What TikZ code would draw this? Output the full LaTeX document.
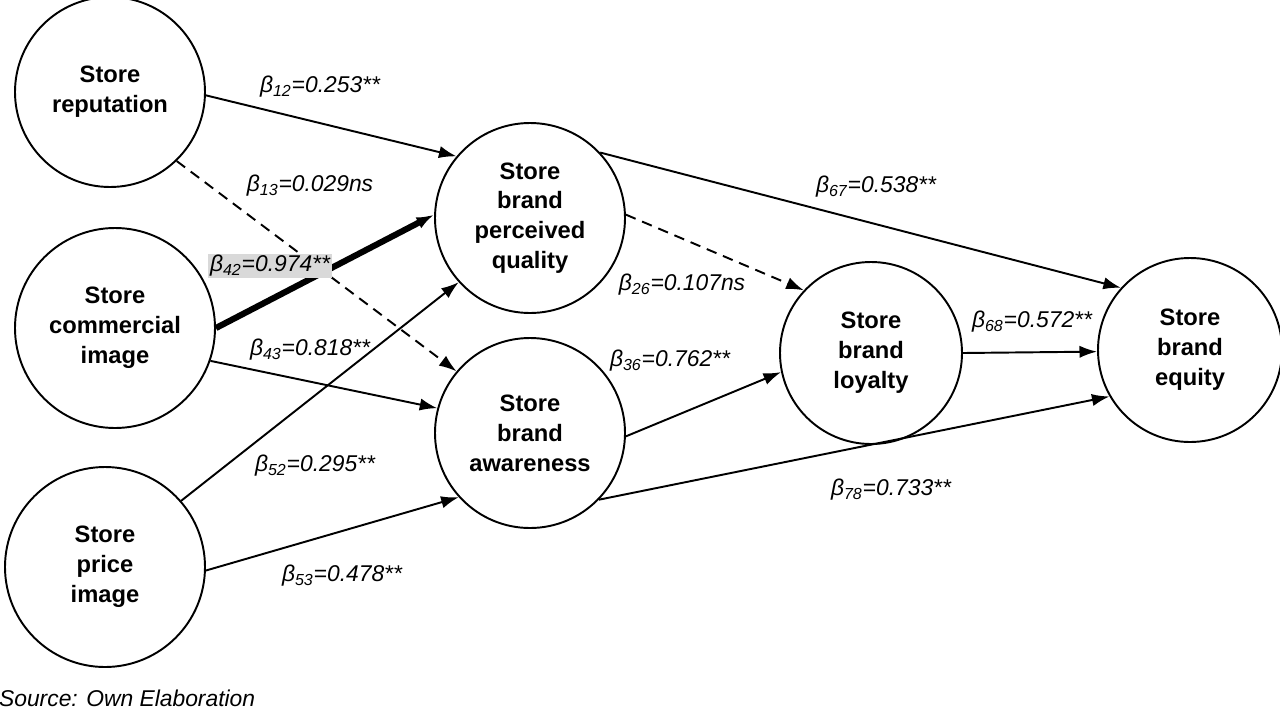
\documentclass[tikz,border=0pt]{standalone}
\usepackage{fontspec}
\setmainfont{Liberation Sans}
\usetikzlibrary{arrows.meta}
\begin{document}
\begin{tikzpicture}[x=0.02cm,y=-0.02cm,
  c/.style={circle,draw,line width=1.1pt,minimum size=#1*0.02cm,inner sep=0pt,align=center,font=\fontsize{13.5}{17}\selectfont\bfseries},
  e/.style={line width=1.1pt,-{Latex[length=10pt,width=7pt]}},
  d/.style={e,dash pattern=on 6pt off 4pt},
  l/.style={font=\fontsize{13}{15}\selectfont\itshape,inner sep=1pt}]
\useasboundingbox (0,0) rectangle (1280,720);
\node[c=190] (rep) at (110,92) {Store\\reputation};
\node[c=200] (com) at (115,328) {Store\\commercial\\image};
\node[c=200] (pri) at (105,567) {Store\\price\\image};
\node[c=190] (pq) at (530,218) {Store\\brand\\perceived\\quality};
\node[c=190] (aw) at (530,433) {Store\\brand\\awareness};
\node[c=182] (loy) at (871,353) {Store\\brand\\loyalty};
\node[c=184] (eq) at (1190,350) {Store\\brand\\equity};
\draw[e] (rep.-2) -- (pq.140);
\draw[d] (rep.-46) -- (aw.140);
\draw[e,line width=3.5pt] (com.0) -- (pq.178);
\draw[e] (com.-19) -- (aw.165);
\draw[e] (pri.41) -- (pq.222);
\draw[e] (pri.-2) -- (aw.222);
\draw[e] (pq.43) -- (eq.138);
\draw[d] (pq.2) -- (loy.137);
\draw[e] (aw.-2) -- (loy.192);
\draw[e] (loy.0) -- (eq.181);
\draw[e] (aw.-44) -- (eq.210);
\node[l] at (320,87) {β\textsubscript{12}=0.253**};
\node[l] at (310,186) {β\textsubscript{13}=0.029ns};
\node[l,fill=black!15] at (270,266) {β\textsubscript{42}=0.974**};
\node[l] at (310,350) {β\textsubscript{43}=0.818**};
\node[l] at (315,466) {β\textsubscript{52}=0.295**};
\node[l] at (342,576) {β\textsubscript{53}=0.478**};
\node[l] at (876,187) {β\textsubscript{67}=0.538**};
\node[l] at (682,285) {β\textsubscript{26}=0.107ns};
\node[l] at (670,361) {β\textsubscript{36}=0.762**};
\node[l] at (1032,322) {β\textsubscript{68}=0.572**};
\node[l] at (891,490) {β\textsubscript{78}=0.733**};
\node[l,anchor=west] at (-3,698) {Source: Own Elaboration};
\end{tikzpicture}
\end{document}
